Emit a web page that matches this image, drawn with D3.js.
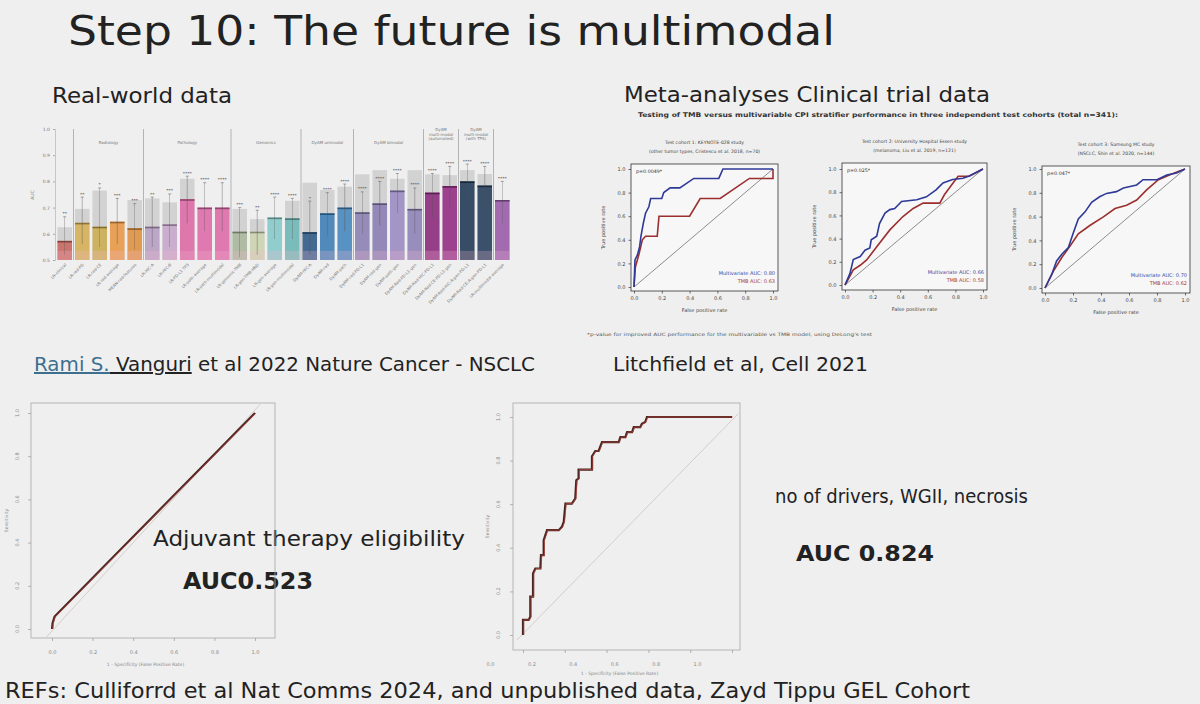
<!DOCTYPE html>
<html>
<head>
<meta charset="utf-8">
<script src="https://cdn.jsdelivr.net/npm/d3@7"></script>
<style>
  body { margin: 0; background: #efefef; }
  text { font-family: "DejaVu Sans", sans-serif; }
</style>
</head>
<body>
<div id="slide"></div>
<script>

// ---- bar chart (Vanguri et al) ----
var barLabels = ["LR-clinical", "LR-rad-PD", "LR-rad-CE", "LR-rad-average", "MEAN-rad-features",
  "LR-HIC-A", "LR-HIC-B", "LR-PD-L1 TPS", "LR-path-average", "LR-path-multimodal",
  "LR-genomic-TMB", "LR-gen-TMB-HRD", "LR-gen-average", "LR-gen-multimodal",
  "DyAM-HIC-A", "DyAM-rad", "DyAM-path", "DyAM-rad-PD-L1", "DyAM-rad-gen", "DyAM-path-gen",
  "DyAM-Rad-PD-L1-gen", "DyAM-Rad-HIC-PD-L1", "DyAM-Rad-CE-PD-L1-gen",
  "DyAM-Rad-HIC-A-gen-PD-L1", "DyAM-Rad-CE-A-gen-PD-L1", "LR-multimodal-average"];
var barValues = [0.573, 0.642, 0.627, 0.646, 0.621, 0.627, 0.636, 0.732, 0.700, 0.700,
  0.608, 0.608, 0.662, 0.659, 0.606, 0.678, 0.700, 0.682, 0.716, 0.765, 0.695,
  0.757, 0.782, 0.800, 0.784, 0.729];
var barGrey = [0.625, 0.695, 0.765, 0.646, 0.729, 0.735, 0.720, 0.810, 0.700, 0.700,
  0.695, 0.656, 0.662, 0.726, 0.795, 0.767, 0.780, 0.827, 0.843, 0.810, 0.843,
  0.827, 0.824, 0.843, 0.828, 0.729];
var errLow = [0.52, 0.56, 0.55, 0.56, 0.54, 0.55, 0.55, 0.64, 0.61, 0.61,
  0.51, 0.52, 0.58, 0.58, 0.52, 0.59, 0.61, 0.60, 0.63, 0.68, 0.60,
  0.66, 0.70, 0.72, 0.70, 0.64];
var errHigh = [0.665, 0.74, 0.775, 0.735, 0.715, 0.74, 0.752, 0.82, 0.795, 0.795,
  0.70, 0.69, 0.74, 0.735, 0.725, 0.757, 0.79, 0.76, 0.80, 0.83, 0.775,
  0.83, 0.857, 0.866, 0.857, 0.80];
var barStars = ["**", "**", "*", "***", "***", "**", "***", "****", "****", "****",
  "***", "**", "****", "****", "*", "****", "****", "****", "****", "****", "****",
  "****", "****", "****", "****", "****"];
var barGroups = [
  {name: ["Radiology"], first: 1, last: 4},
  {name: ["Pathology"], first: 5, last: 9},
  {name: ["Genomics"], first: 10, last: 13},
  {name: ["DyAM unimodal"], first: 14, last: 16},
  {name: ["DyAM bimodal"], first: 17, last: 20},
  {name: ["DyAM", "multi-modal", "(automated)"], first: 21, last: 22},
  {name: ["DyAM", "multi-modal", "(with TPS)"], first: 23, last: 24}
];
var barTicks = [0.5, 0.6, 0.7, 0.8, 0.9, 1.0];
var barColors = ["#c9665f", "#d8b055", "#ccae4f", "#eb9a45", "#e39240", "#b9a0c4", "#c8a8cc",
  "#de6aa6", "#e06cab", "#e06cab", "#aab89c", "#cdd6b0", "#86cccb", "#6db8b7",
  "#305a86", "#3d7fb6", "#4789bf", "#8d82b6", "#8a7db3", "#9c8cc3", "#8f84bb",
  "#8b2a7d", "#952c84", "#213a55", "#253e5c", "#9b5cab"];

// ---- Litchfield ROC panels: [fpr, tpr] ----
var roc1Multi = [[0,0],[0.007,0.23],[0.024,0.27],[0.04,0.34],[0.05,0.43],[0.067,0.54],[0.083,0.625],
  [0.107,0.68],[0.12,0.75],[0.2,0.75],[0.214,0.8],[0.26,0.84],[0.33,0.84],[0.43,0.92],[0.61,0.92],
  [0.64,1.0],[1,1]];
var roc1Tmb = [[0,0],[0.01,0.17],[0.036,0.28],[0.06,0.4],[0.083,0.43],[0.167,0.43],[0.18,0.6],
  [0.4,0.6],[0.476,0.75],[0.62,0.75],[0.83,0.92],[1,0.92],[1,1]];
var roc2Multi = [[0,0],[0.036,0.1],[0.06,0.22],[0.11,0.245],[0.145,0.3],[0.18,0.32],[0.19,0.39],
  [0.23,0.42],[0.25,0.53],[0.29,0.62],[0.325,0.65],[0.36,0.66],[0.41,0.72],[0.52,0.735],
  [0.59,0.76],[0.66,0.82],[0.71,0.88],[0.78,0.91],[0.855,0.92],[0.9,0.94],[1,1]];
var roc2Tmb = [[0,0],[0.06,0.13],[0.11,0.17],[0.157,0.216],[0.23,0.33],[0.325,0.475],[0.42,0.59],
  [0.494,0.66],[0.566,0.706],[0.687,0.706],[0.72,0.778],[0.783,0.88],[0.82,0.937],[0.9,0.937],[1,1]];
var roc3Multi = [[0,0],[0.048,0.114],[0.083,0.227],[0.12,0.284],[0.167,0.34],[0.2,0.455],[0.238,0.58],
  [0.286,0.64],[0.333,0.72],[0.39,0.767],[0.44,0.795],[0.51,0.81],[0.56,0.84],[0.655,0.866],
  [0.7,0.91],[0.8,0.91],[0.87,0.95],[0.94,0.966],[1,1]];
var roc3Tmb = [[0,0],[0.06,0.142],[0.12,0.256],[0.18,0.355],[0.238,0.455],[0.32,0.525],[0.417,0.597],
  [0.5,0.668],[0.583,0.696],[0.655,0.739],[0.726,0.824],[0.81,0.91],[0.893,0.952],[0.952,0.98],[1,1]];
var cohortTitles = [
  ["Test cohort 1: KEYNOTE-028 study", "(other tumor types, Cristescu et al. 2018, n=70)"],
  ["Test cohort 2: University Hospital Essen study", "(melanoma, Liu et al. 2019, n=121)"],
  ["Test cohort 3: Samsung MC study", "(NSCLC, Shin et al. 2020, n=144)"]
];
var cohortP = ["p=0.0049*", "p=0.025*", "p=0.047*"];
var cohortAucMulti = ["0.80", "0.66", "0.70"];
var cohortAucTmb = ["0.63", "0.58", "0.62"];
var rocTicks = [0, 0.2, 0.4, 0.6, 0.8, 1.0];

// ---- GEL cohort ROC curves ----
var adjuvantRoc = [[0,0],[0.003,0.028],[0.013,0.058],[1,1]];
var adjuvantDiag = [[-0.03,-0.04],[1.025,1.04]];
var driversRoc = [[0,0],[0,0.069],[0.027,0.069],[0.035,0.084],[0.035,0.176],[0.048,0.176],
  [0.048,0.282],[0.059,0.305],[0.083,0.305],[0.086,0.366],[0.099,0.366],[0.099,0.435],
  [0.115,0.481],[0.171,0.481],[0.186,0.496],[0.195,0.519],[0.203,0.603],[0.234,0.603],
  [0.25,0.626],[0.255,0.71],[0.266,0.718],[0.266,0.759],[0.33,0.759],[0.33,0.82],
  [0.346,0.844],[0.362,0.844],[0.378,0.885],[0.458,0.885],[0.466,0.908],[0.49,0.908],
  [0.498,0.931],[0.522,0.931],[0.53,0.954],[0.561,0.954],[0.569,0.969],[0.585,0.977],
  [0.593,1.0],[1,1]];
var driversDiag = [[-0.029,-0.023],[1.03,1.015]];

var svg = d3.select("#slide").append("svg")
  .attr("width", 1200).attr("height", 704)
  .style("background", "#efefef");

// ---------- slide texts ----------
function slideText(x, y, str, size, len, weight) {
  return svg.append("text")
    .attr("x", x).attr("y", y)
    .attr("font-size", size)
    .attr("font-weight", weight || "normal")
    .attr("fill", "#222")
    .attr("textLength", len)
    .attr("lengthAdjust", "spacingAndGlyphs")
    .text(str);
}
slideText(68, 45, "Step 10: The future is multimodal", 40, 767);
slideText(52, 103, "Real-world data", 21, 180);
slideText(624, 102, "Meta-analyses Clinical trial data", 21, 366);
slideText(613, 371, "Litchfield et al, Cell 2021", 20, 255);
slideText(153, 546, "Adjuvant therapy eligibility", 21, 312);
slideText(183, 589, "AUC0.523", 23, 130, "bold");
slideText(775, 503, "no of drivers, WGII, necrosis", 20, 253);
slideText(796, 561, "AUC 0.824", 22, 138, "bold");
slideText(5, 698, "REFs: Culliforrd et al Nat Comms 2024, and unpublished data, Zayd Tippu GEL Cohort", 22, 965);

var cite = svg.append("text")
  .attr("x", 34).attr("y", 371)
  .attr("font-size", 20).attr("fill", "#222")
  .attr("textLength", 501).attr("lengthAdjust", "spacingAndGlyphs");
cite.append("tspan").attr("fill", "#3d6f8f").attr("text-decoration", "underline").text("Rami S.");
cite.append("tspan").attr("text-decoration", "underline").text(" Vanguri");
cite.append("tspan").text(" et al 2022 Nature Cancer - NSCLC");

// ---------- bar chart ----------
function drawBars() {
  var x = d3.scaleBand().domain(barLabels).range([54.5, 512.5]).padding(0.17);
  var y = d3.scaleLinear().domain([0.5, 1.0]).range([260, 129]);
  var color = d3.scaleOrdinal().domain(barLabels).range(barColors);
  var g = svg.append("g");

  var yAxis = d3.axisLeft(y).tickValues(barTicks).tickFormat(d3.format(".1f")).tickSize(2);
  var ag = g.append("g").attr("transform", "translate(55,0)").call(yAxis);
  ag.select(".domain").attr("stroke", "#aaa").attr("stroke-width", 0.6);
  ag.selectAll("line").attr("stroke", "#aaa");
  ag.selectAll("text").attr("font-size", 4.5).attr("fill", "#777").attr("font-family", "DejaVu Sans");
  g.append("text").attr("transform", "translate(34,195) rotate(-90)")
    .attr("text-anchor", "middle").attr("font-size", 4.5).attr("fill", "#777").text("AUC");

  // group separators
  barGroups.forEach(function(grp) {
    var sx = x(barLabels[grp.first]) - x.step() * x.paddingInner() / 2;
    g.append("line").attr("x1", sx).attr("x2", sx).attr("y1", y(1.0)).attr("y2", y(0.5))
      .attr("stroke", "#9a9a9a").attr("stroke-width", 0.7);
    var cx = (x(barLabels[grp.first]) + x(barLabels[grp.last]) + x.bandwidth()) / 2;
    grp.name.forEach(function(line, i) {
      g.append("text").attr("x", cx).attr("y", (grp.name.length > 1 ? 131 : 144) + i * 4.5)
        .attr("text-anchor", "middle").attr("font-size", 4).attr("fill", "#777").text(line);
    });
  });
  var lastSep = x(barLabels[25]) - x.step() * x.paddingInner() / 2;
  g.append("line").attr("x1", lastSep).attr("x2", lastSep).attr("y1", y(1.0)).attr("y2", y(0.5))
    .attr("stroke", "#9a9a9a").attr("stroke-width", 0.7);

  var idx = d3.range(barLabels.length);
  g.selectAll("rect.grey").data(idx).enter().append("rect")
    .attr("x", function(i) { return x(barLabels[i]); })
    .attr("width", x.bandwidth())
    .attr("y", function(i) { return y(barGrey[i]); })
    .attr("height", function(i) { return y(0.5) - y(barGrey[i]); })
    .attr("fill", "#d2d2d2");
  g.selectAll("rect.val").data(idx).enter().append("rect")
    .attr("x", function(i) { return x(barLabels[i]); })
    .attr("width", x.bandwidth())
    .attr("y", function(i) { return y(barValues[i]); })
    .attr("height", function(i) { return y(0.5) - y(barValues[i]); })
    .attr("fill", function(i) { return color(barLabels[i]); })
    .attr("opacity", 0.88);
  g.selectAll("rect.low").data(idx).enter().append("rect")
    .attr("x", function(i) { return x(barLabels[i]); })
    .attr("width", x.bandwidth())
    .attr("y", y(0.535))
    .attr("height", y(0.5) - y(0.535))
    .attr("fill", "#f3b8d0").attr("opacity", 0.25);
  g.selectAll("line.cap").data(idx).enter().append("line")
    .attr("x1", function(i) { return x(barLabels[i]); })
    .attr("x2", function(i) { return x(barLabels[i]) + x.bandwidth(); })
    .attr("y1", function(i) { return y(barValues[i]) + 0.8; })
    .attr("y2", function(i) { return y(barValues[i]) + 0.8; })
    .attr("stroke", function(i) { return d3.color(color(barLabels[i])).darker(1.2); })
    .attr("stroke-width", 1.6);
  g.selectAll("line.err").data(idx).enter().append("line")
    .attr("x1", function(i) { return x(barLabels[i]) + x.bandwidth() / 2; })
    .attr("x2", function(i) { return x(barLabels[i]) + x.bandwidth() / 2; })
    .attr("y1", function(i) { return y(errLow[i]); })
    .attr("y2", function(i) { return y(errHigh[i]); })
    .attr("stroke", "#555").attr("stroke-width", 0.5).attr("opacity", 0.8);
  g.selectAll("line.errcap").data(idx).enter().append("line")
    .attr("x1", function(i) { return x(barLabels[i]) + x.bandwidth() / 2 - 1.5; })
    .attr("x2", function(i) { return x(barLabels[i]) + x.bandwidth() / 2 + 1.5; })
    .attr("y1", function(i) { return y(errHigh[i]); })
    .attr("y2", function(i) { return y(errHigh[i]); })
    .attr("stroke", "#555").attr("stroke-width", 0.5);
  g.selectAll("text.star").data(idx).enter().append("text")
    .attr("x", function(i) { return x(barLabels[i]) + x.bandwidth() / 2; })
    .attr("y", function(i) { return y(errHigh[i]) - 1.5; })
    .attr("text-anchor", "middle").attr("font-size", 4.5).attr("fill", "#555")
    .text(function(i) { return barStars[i]; });

  g.selectAll("text.xl").data(idx).enter().append("text")
    .attr("transform", function(i) {
      return "translate(" + (x(barLabels[i]) + x.bandwidth() / 2 + 2) + ",265) rotate(-45)";
    })
    .attr("text-anchor", "end").attr("font-size", 4).attr("fill", "#777")
    .text(function(i) { return barLabels[i]; });
}
drawBars();

// ---------- Litchfield panels ----------
function drawCohort(k, box, xr, yr, multi, tmb) {
  var x = d3.scaleLinear().domain([0, 1]).range(xr);
  var y = d3.scaleLinear().domain([0, 1]).range(yr);
  var g = svg.append("g");
  var line = d3.line().x(function(d) { return x(d[0]); }).y(function(d) { return y(d[1]); });

  g.append("rect").attr("x", box[0]).attr("y", box[1])
    .attr("width", box[2] - box[0]).attr("height", box[3] - box[1])
    .attr("fill", "#f7f7f7").attr("stroke", "#333").attr("stroke-width", 0.8);

  var xa = g.append("g").attr("transform", "translate(0," + box[3] + ")")
    .call(d3.axisBottom(x).tickValues(rocTicks).tickFormat(d3.format(".1f")).tickSize(2.5));
  var ya = g.append("g").attr("transform", "translate(" + box[0] + ",0)")
    .call(d3.axisLeft(y).tickValues(rocTicks).tickFormat(d3.format(".1f")).tickSize(2.5));
  [xa, ya].forEach(function(a) {
    a.select(".domain").remove();
    a.selectAll("line").attr("stroke", "#333").attr("stroke-width", 0.7);
    a.selectAll("text").attr("font-size", 5).attr("fill", "#444").attr("font-family", "DejaVu Sans");
  });

  g.append("path").datum([[0, 0], [1, 1]]).attr("d", line)
    .attr("fill", "none").attr("stroke", "#444").attr("stroke-width", 0.6);
  g.append("path").datum(tmb).attr("d", line)
    .attr("fill", "none").attr("stroke", "#9b2f2f").attr("stroke-width", 1.6);
  g.append("path").datum(multi).attr("d", line)
    .attr("fill", "none").attr("stroke", "#2e3a96").attr("stroke-width", 1.6);

  var cx = (box[0] + box[2]) / 2;
  cohortTitles[k].forEach(function(t, i) {
    g.append("text").attr("x", cx).attr("y", box[1] - 20 + i * 8.5)
      .attr("text-anchor", "middle").attr("font-size", 4.6).attr("fill", "#444").text(t);
  });
  g.append("text").attr("x", box[0] + 5).attr("y", box[1] + 9)
    .attr("font-size", 4.8).attr("fill", "#333").text(cohortP[k]);
  g.append("text").attr("x", box[2] - 3).attr("y", box[3] - 16)
    .attr("text-anchor", "end").attr("font-size", 5).attr("fill", "#3b47a0")
    .text("Multivariate AUC: " + cohortAucMulti[k]);
  g.append("text").attr("x", box[2] - 3).attr("y", box[3] - 8)
    .attr("text-anchor", "end").attr("font-size", 5).attr("fill", "#a33a35")
    .text("TMB AUC: " + cohortAucTmb[k]);
  g.append("text").attr("x", cx).attr("y", box[3] + 21)
    .attr("text-anchor", "middle").attr("font-size", 5).attr("fill", "#444").text("False positive rate");
  g.append("text").attr("transform", "translate(" + (box[0] - 26) + "," + ((box[1] + box[3]) / 2) + ") rotate(-90)")
    .attr("text-anchor", "middle").attr("font-size", 5).attr("fill", "#444").text("True positive rate");
}
drawCohort(0, [631, 164, 778, 291], [634, 773], [287, 169], roc1Multi, roc1Tmb);
drawCohort(1, [842, 163, 987, 290], [845, 983], [285, 169], roc2Multi, roc2Tmb);
drawCohort(2, [1042, 166, 1190, 293], [1045, 1185], [288, 169], roc3Multi, roc3Tmb);

svg.append("text").attr("x", 638).attr("y", 117)
  .attr("font-size", 6.4).attr("font-weight", "bold").attr("fill", "#333")
  .attr("textLength", 480).attr("lengthAdjust", "spacingAndGlyphs")
  .text("Testing of TMB versus multivariable CPI stratifier performance in three independent test cohorts (total n=341):");
svg.append("text").attr("x", 587).attr("y", 336)
  .attr("font-size", 4.5).attr("fill", "#555")
  .attr("textLength", 285).attr("lengthAdjust", "spacingAndGlyphs")
  .text("*p-value for improved AUC performance for the multivariable vs TMB model, using DeLong's test");

// ---------- GEL cohort ROC plots ----------
function drawGel(box, xr, yr, labelRange, curve, diag, yLabelX, xTitleY) {
  var x = d3.scaleLinear().domain([0, 1]).range(xr);
  var y = d3.scaleLinear().domain([0, 1]).range(yr);
  var xl = d3.scaleLinear().domain([0, 1]).range(labelRange);
  var g = svg.append("g");
  var line = d3.line().x(function(d) { return x(d[0]); }).y(function(d) { return y(d[1]); });

  g.append("rect").attr("x", box[0]).attr("y", box[1])
    .attr("width", box[2] - box[0]).attr("height", box[3] - box[1])
    .attr("fill", "none").attr("stroke", "#a8a8a8").attr("stroke-width", 0.8);

  var xa = g.append("g").attr("transform", "translate(0," + box[3] + ")")
    .call(d3.axisBottom(x).tickValues(rocTicks).tickFormat("").tickSize(3));
  var xlab = g.append("g").attr("transform", "translate(0," + (box[3] + 9) + ")")
    .call(d3.axisBottom(xl).tickValues(rocTicks).tickFormat(d3.format(".1f")).tickSize(0));
  var ya = g.append("g").attr("transform", "translate(" + box[0] + ",0)")
    .call(d3.axisLeft(y).tickValues(rocTicks).tickFormat("").tickSize(3));
  [xa, xlab, ya].forEach(function(a) {
    a.select(".domain").remove();
    a.selectAll("line").attr("stroke", "#999").attr("stroke-width", 0.7);
    a.selectAll("text").attr("font-size", 5).attr("fill", "#888").attr("font-family", "DejaVu Sans");
  });
  rocTicks.forEach(function(t) {
    g.append("text").attr("transform", "translate(" + yLabelX + "," + y(t) + ") rotate(-90)")
      .attr("text-anchor", "middle").attr("font-size", 5).attr("fill", "#888")
      .text(d3.format(".1f")(t));
  });

  g.append("path").datum(diag).attr("d", line)
    .attr("fill", "none").attr("stroke", "#cfc4c0").attr("stroke-width", 0.8);
  g.append("path").datum(curve).attr("d", line)
    .attr("fill", "none").attr("stroke", "#4a2622").attr("stroke-width", 2.2);
  g.append("path").datum(curve).attr("d", line)
    .attr("fill", "none").attr("stroke", "#b8463c").attr("stroke-width", 0.7)
    .attr("transform", "translate(0.8,0)");

  g.append("text").attr("x", (x(0) + x(1)) / 2 - 8).attr("y", xTitleY)
    .attr("text-anchor", "middle").attr("font-size", 4.5).attr("fill", "#888")
    .text("1 - Specificity (False Positive Rate)");
  g.append("text").attr("transform", "translate(" + (yLabelX - 11) + "," + ((box[1] + box[3]) / 2) + ") rotate(-90)")
    .attr("text-anchor", "middle").attr("font-size", 4.5).attr("fill", "#888").text("Sensitivity");
}
drawGel([31, 403, 275, 638], [52, 255], [629, 413], [52, 255], adjuvantRoc, adjuvantDiag, 19, 666);
drawGel([513, 403, 740, 650], [523, 732], [635, 417], [490, 697], driversRoc, driversDiag, 500, 675);

</script>
</body>
</html>
